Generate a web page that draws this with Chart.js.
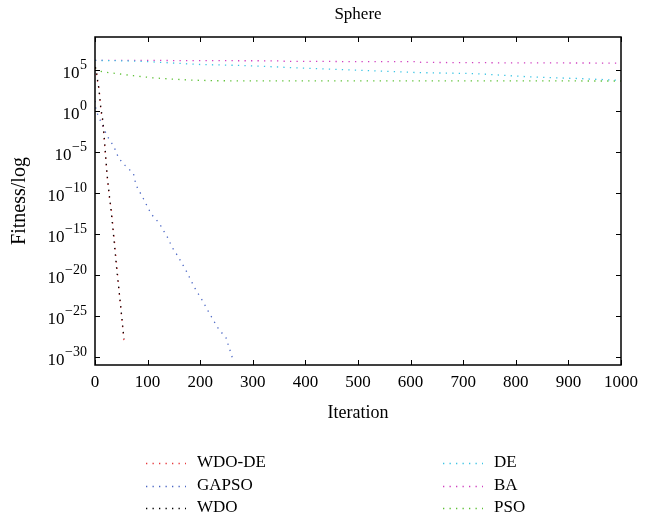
<!DOCTYPE html>
<html>
<head>
<meta charset="utf-8">
<script src="https://cdn.jsdelivr.net/npm/chart.js@4/dist/chart.umd.min.js"></script>
<style>
  html, body { margin: 0; padding: 0; background: #fff; }
  canvas { display: block; }
</style>
</head>
<body>
<canvas id="c" width="645" height="528"></canvas>
<script>
// ---- data ----
const chartTitle = "Sphere";
const xTitle = "Iteration";
const yTitle = "Fitness/log";
const xTicks = [0, 100, 200, 300, 400, 500, 600, 700, 800, 900, 1000];
const yTickExponents = [5, 0, -5, -10, -15, -20, -25, -30];

const wdoDeIter = [0, 2, 5, 8, 11, 15, 19, 23, 27, 31, 37, 43, 49, 55];
const wdoDeVal  = [1.8e5, 1.2e5, 3.5e3, 4e2, 1.5, 3e-2, 2.5e-5, 1e-8, 4e-11, 1e-12, 1.2e-16, 1e-20, 8e-25, 1e-28];

const gapsoIter = [0, 1, 5, 14, 23, 36, 45, 57, 73, 78, 92, 107, 122, 138, 147, 158, 174, 189, 205, 219, 235, 249, 256, 263];
const gapsoVal  = [1.6e1, 2.8, 3.8e-1, 1.7e-2, 8.5e-4, 4.3e-5, 1.7e-6, 2.2e-7, 2.3e-8, 8.7e-10, 1.9e-11, 2.5e-13, 2e-14, 3.5e-16, 2.1e-17, 1.7e-18, 2.5e-20, 3e-22, 5.8e-24, 1.35e-25, 2.4e-27, 2.1e-28, 8.5e-30, 3.2e-31];

const wdoIter = [0, 2, 5, 7, 11, 15, 19, 23, 27, 30, 36, 42, 49, 55];
const wdoVal  = [2e5, 1.5e5, 4.6e3, 6.9e2, 2.5, 5.9e-2, 3.2e-5, 1.8e-8, 6.3e-11, 1.6e-12, 2e-16, 1.6e-20, 1.3e-24, 1.6e-28];

const deIter = [0, 50, 91, 197, 284, 391, 498, 611, 724, 824, 924, 1000];
const deVal  = [1.4e6, 1.26e6, 1.07e6, 4.5e5, 3.3e5, 1.66e5, 9.1e4, 4.6e4, 3.4e4, 1.4e4, 8.3e3, 5.2e3];

const baIter = [0, 100, 200, 350, 360, 500, 610, 620, 800, 1000];
const baVal  = [1.45e6, 1.4e6, 1.3e6, 1.25e6, 1.1e6, 1.0e6, 1.0e6, 8e5, 7e5, 6.6e5];

const psoIter = [0, 13, 35, 73, 110, 148, 186, 230, 400, 600, 800, 1000];
const psoVal  = [1.6e5, 5.8e4, 3.9e4, 1.9e4, 1.05e4, 7.2e3, 5.5e3, 4.6e3, 4.5e3, 4.4e3, 4.4e3, 4.3e3];

const seriesNames  = ["WDO-DE", "GAPSO", "WDO", "DE", "BA", "PSO"];
const seriesColors = ["#e8383c", "#4a66c4", "#000000", "#3cc4e4", "#d040c0", "#5cc034"];
const seriesOrder  = [1, 2, 0, 3, 4, 5];
// ---------------------------------------

const FONT = "'Liberation Serif', 'Times New Roman', serif";
function pts(xs, ys) { return xs.map((x, i) => ({ x: x, y: ys[i] })); }

const allData = [
  pts(wdoDeIter, wdoDeVal),
  pts(gapsoIter, gapsoVal),
  pts(wdoIter, wdoVal),
  pts(deIter, deVal),
  pts(baIter, baVal),
  pts(psoIter, psoVal)
];

const datasets = allData.map((d, i) => ({
  label: seriesNames[i],
  data: d,
  order: seriesOrder[i],
  borderColor: seriesColors[i],
  backgroundColor: seriesColors[i],
  borderWidth: 1.3,
  borderDash: [1.3, 5.2],
  pointRadius: 0,
  tension: 0,
  fill: false
}));

const decor = {
  id: "decor",
  afterDraw(chart) {
    const ctx = chart.ctx;
    const a = chart.chartArea;
    const xs = chart.scales.x, ys = chart.scales.y;
    ctx.save();
    // frame
    ctx.strokeStyle = "#000";
    ctx.lineWidth = 1.5;
    ctx.strokeRect(a.left, a.top, a.right - a.left, a.bottom - a.top);
    // inward ticks
    ctx.lineWidth = 1;
    ctx.beginPath();
    xTicks.forEach(v => {
      const px = Math.round(xs.getPixelForValue(v)) + 0.5;
      ctx.moveTo(px, a.bottom); ctx.lineTo(px, a.bottom - 5);
      ctx.moveTo(px, a.top); ctx.lineTo(px, a.top + 5);
    });
    yTickExponents.forEach(e => {
      const py = Math.round(ys.getPixelForValue(Math.pow(10, e))) + 0.5;
      ctx.moveTo(a.left, py); ctx.lineTo(a.left + 5, py);
      ctx.moveTo(a.right, py); ctx.lineTo(a.right - 5, py);
    });
    ctx.stroke();
    // y tick labels 10^e
    ctx.fillStyle = "#000";
    ctx.textBaseline = "alphabetic";
    yTickExponents.forEach(e => {
      const py = ys.getPixelForValue(Math.pow(10, e));
      const expStr = String(e).replace("-", "\u2212");
      ctx.font = "14px " + FONT;
      const ew = ctx.measureText(expStr).width;
      const right = a.left - 8;
      ctx.textAlign = "left";
      ctx.fillText(expStr, right - ew, py - 0.5);
      ctx.font = "17px " + FONT;
      ctx.textAlign = "right";
      ctx.fillText("10", right - ew - 0.5, py + 8.5);
    });
    // title
    ctx.font = "17px " + FONT;
    ctx.textAlign = "center";
    ctx.textBaseline = "middle";
    ctx.fillText(chartTitle, (a.left + a.right) / 2, 15);
    // x title
    ctx.font = "18px " + FONT;
    ctx.fillText(xTitle, (a.left + a.right) / 2, 413);
    // y title
    ctx.save();
    ctx.font = "20px " + FONT;
    ctx.translate(20, (a.top + a.bottom) / 2);
    ctx.rotate(-Math.PI / 2);
    ctx.fillText(yTitle, 0, 0);
    ctx.restore();
    // legend (column-major, 2 columns)
    const colX = [146, 443];
    const rowY = [463, 486, 508];
    seriesNames.forEach((name, i) => {
      const col = Math.floor(i / 3), row = i % 3;
      const x0 = colX[col], y0 = rowY[row];
      ctx.save();
      ctx.strokeStyle = seriesColors[i];
      ctx.lineWidth = 1.3;
      ctx.setLineDash([1.3, 5.2]);
      ctx.beginPath();
      ctx.moveTo(x0, y0 + 0.5); ctx.lineTo(x0 + 40, y0 + 0.5);
      ctx.stroke();
      ctx.restore();
      ctx.font = "17px " + FONT;
      ctx.textAlign = "left";
      ctx.textBaseline = "middle";
      ctx.fillStyle = "#000";
      ctx.fillText(name, x0 + 51, y0);
    });
    ctx.restore();
  }
};

new Chart(document.getElementById("c"), {
  type: "line",
  data: { datasets: datasets },
  plugins: [decor],
  options: {
    responsive: false,
    animation: false,
    devicePixelRatio: 1,
    layout: { padding: { left: 0, right: 22, top: 37, bottom: 0 } },
    plugins: { legend: { display: false }, title: { display: false }, tooltip: { enabled: false } },
    scales: {
      x: {
        type: "linear",
        min: 0, max: 1000,
        afterBuildTicks(s) { s.ticks = xTicks.map(v => ({ value: v })); },
        afterFit(s) { s.height = 163; },
        ticks: {
          color: "#000", font: { family: FONT, size: 17 }, padding: 7, maxRotation: 0, autoSkip: false,
          callback: v => String(v)
        },
        grid: { display: false, drawTicks: false },
        border: { display: false }
      },
      y: {
        type: "logarithmic",
        min: 1e-31, max: 1e9,
        afterFit(s) { s.width = 95; },
        ticks: { display: false },
        grid: { display: false, drawTicks: false },
        border: { display: false }
      }
    }
  }
});
</script>
</body>
</html>
